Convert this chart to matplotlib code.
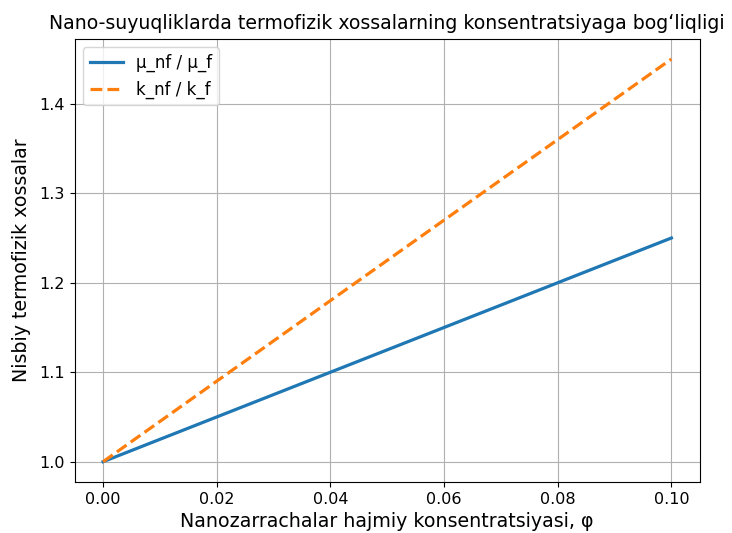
import matplotlib
matplotlib.use("Agg")
import matplotlib.pyplot as plt

phi = [0.00, 0.02, 0.04, 0.06, 0.08, 0.10]
mu_ratio = [1.00, 1.05, 1.10, 1.15, 1.20, 1.25]
k_ratio = [1.00, 1.09, 1.18, 1.27, 1.36, 1.45]

fig = plt.figure(figsize=(7.32, 5.33), dpi=100)
ax = fig.add_axes([0.102, 0.096, 0.854, 0.831])
ax.plot(phi, mu_ratio, color="#1f77b4", linewidth=2.3, label="μ_nf / μ_f")
ax.plot(phi, k_ratio, color="#ff7f0e", linewidth=2.3, linestyle="--", label="k_nf / k_f")
ax.set_title("Nano-suyuqliklarda termofizik xossalarning konsentratsiyaga bogʻliqligi", fontsize=13.6, pad=7)
ax.set_xlabel("Nanozarrachalar hajmiy konsentratsiyasi, φ", fontsize=13.7, labelpad=4)
ax.set_ylabel("Nisbiy termofizik xossalar", fontsize=13.7, labelpad=6)
ax.set_xticks([0.00, 0.02, 0.04, 0.06, 0.08, 0.10])
ax.set_yticks([1.0, 1.1, 1.2, 1.3, 1.4])
ax.tick_params(labelsize=11.5)
ax.grid(True)
ax.legend(loc="upper left", fontsize=12)
fig.savefig("out.png", dpi=100)
